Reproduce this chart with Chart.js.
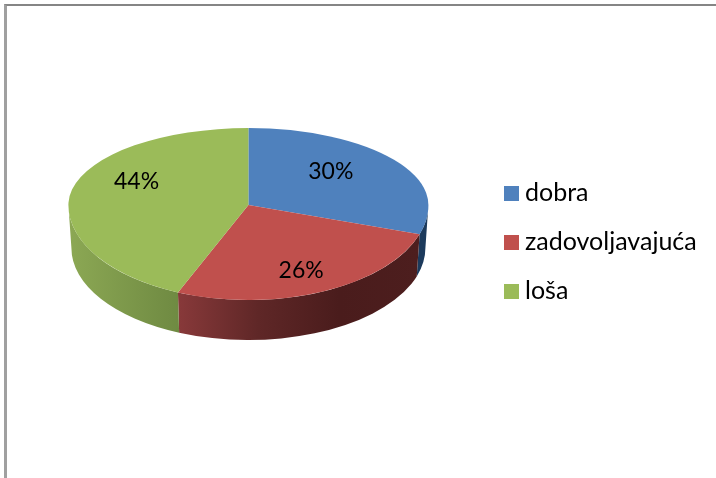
<!DOCTYPE html>
<html>
<head>
<meta charset="utf-8">
<style>
  html, body { margin: 0; background: #fff; overflow: hidden; }
  #frame { position: absolute; left: 4px; top: 4px; width: 712px; height: 474px; box-sizing: border-box;
           border-left: 3px solid #a0a0a0; border-top: 2px solid #858585; }
  #pie { position: absolute; left: 0; top: 0; }
</style>
<script src="https://cdn.jsdelivr.net/npm/chart.js@4"></script>
</head>
<body>
<div id="frame"></div>
<canvas id="pie" width="716" height="478"></canvas>
<script>
const categories = ['dobra', 'zadovoljavajuća', 'loša'];
const values = [30, 26.4, 43.6];
const sliceColors = ['#4f81bd', '#c0504d', '#9bbb59'];
// bocni zid: boje s lijeva na desno
const wallColors = [['#1c3a5c', '#1c3a5c'], ['#88393a', '#5f2727', '#4a1c1c', '#4d1e1e'], ['#8ca854', '#6f8a42']];
const labelNudge = [[-5, -6], [8, 14], [-6, -14]];

const TOP_SQUASH = 77 / 180;    // perspektiva: straznja polovina je plica
const FRONT_SQUASH = 95 / 180;
const DEPTH = 43;
const BASE_RX = 177;
const BASE_RY = 92;
const LEGEND_BOX = 15;
const LEGEND_X = 510.5;
const LEGEND_SHIFT_Y = 37;

function squareIcon(color) {
  const c = document.createElement('canvas');
  c.width = LEGEND_BOX;
  c.height = LEGEND_BOX;
  const g = c.getContext('2d');
  g.fillStyle = color;
  g.fillRect(0, 0, LEGEND_BOX, LEGEND_BOX);
  return c;
}
const legendIcons = sliceColors.map(squareIcon);

function drawWalls(ctx, arcs) {
  arcs.forEach((arc, i) => {
    const a0 = Math.max(arc.startAngle, 0);
    const a1 = Math.min(arc.endAngle, Math.PI);
    if (a1 <= a0) return;
    const R = arc.outerRadius;
    // kut raste prema lijevo, zato gradijent krece od a1
    const grad = ctx.createLinearGradient(arc.x + R * Math.cos(a1), 0, arc.x + R * Math.cos(a0), 0);
    const stops = wallColors[i];
    stops.forEach((color, s) => grad.addColorStop(s / (stops.length - 1), color));
    ctx.beginPath();
    ctx.ellipse(arc.x, arc.y, R, R * FRONT_SQUASH, 0, a0, a1);
    ctx.ellipse(arc.x, arc.y + DEPTH, BASE_RX, BASE_RY, 0, a1, a0, true);
    ctx.closePath();
    ctx.fillStyle = grad;
    ctx.fill();
  });
}

function drawHalf(chart, meta, cy, squash, isTop) {
  const ctx = chart.ctx;
  ctx.save();
  ctx.beginPath();
  if (isTop) ctx.rect(0, 0, chart.width, cy);
  else ctx.rect(0, cy, chart.width, chart.height - cy);
  ctx.clip();
  ctx.translate(0, cy);
  ctx.scale(1, squash);
  ctx.translate(0, -cy);
  meta.controller.draw();
  ctx.restore();
}

const pie3d = {
  id: 'pie3d',
  afterLayout(chart) {
    const legend = chart.legend;
    const w = legend.right - legend.left;
    legend.left = LEGEND_X - legend.options.labels.padding;
    legend.right = legend.left + w;
    legend.top += LEGEND_SHIFT_Y;
    legend.bottom += LEGEND_SHIFT_Y;
  },
  beforeDatasetDraw(chart, args) {
    const ctx = chart.ctx;
    const meta = args.meta;
    const cy = Math.round(meta.data[0].y);
    drawWalls(ctx, meta.data);
    drawHalf(chart, meta, cy, TOP_SQUASH, true);
    drawHalf(chart, meta, cy, FRONT_SQUASH, false);
    return false;
  },
  afterDatasetsDraw(chart) {
    const ctx = chart.ctx;
    const total = values.reduce((a, b) => a + b, 0);
    ctx.save();
    ctx.font = '23px Lato';
    ctx.fillStyle = '#000';
    ctx.textAlign = 'center';
    ctx.textBaseline = 'middle';
    chart.getDatasetMeta(0).data.forEach((arc, i) => {
      const mid = (arc.startAngle + arc.endAngle) / 2;
      const r = arc.outerRadius * 0.6;
      const squash = Math.sin(mid) < 0 ? TOP_SQUASH : FRONT_SQUASH;
      const x = arc.x + r * Math.cos(mid) + labelNudge[i][0];
      const y = arc.y + r * Math.sin(mid) * squash + labelNudge[i][1];
      ctx.fillText(Math.round(values[i] / total * 100) + '%', x, y);
    });
    ctx.restore();
  },
};

new Chart(document.getElementById('pie'), {
  type: 'pie',
  data: {
    labels: categories,
    datasets: [{ data: values, backgroundColor: sliceColors, borderWidth: 0 }],
  },
  options: {
    responsive: false,
    animation: false,
    radius: 180,
    layout: { padding: { left: 5, top: 0, right: 4, bottom: 68 } },
    plugins: {
      tooltip: { enabled: false },
      legend: {
        position: 'right',
        labels: {
          color: '#000',
          font: { family: 'Lato', size: 25 },
          padding: 24,
          boxWidth: 2,
          boxHeight: 2,
          usePointStyle: true,
          generateLabels(chart) {
            return Chart.overrides.pie.plugins.legend.labels.generateLabels(chart)
              .map((item) => ({ ...item, pointStyle: legendIcons[item.index] }));
          },
        },
      },
    },
  },
  plugins: [pie3d],
});
</script>
</body>
</html>
